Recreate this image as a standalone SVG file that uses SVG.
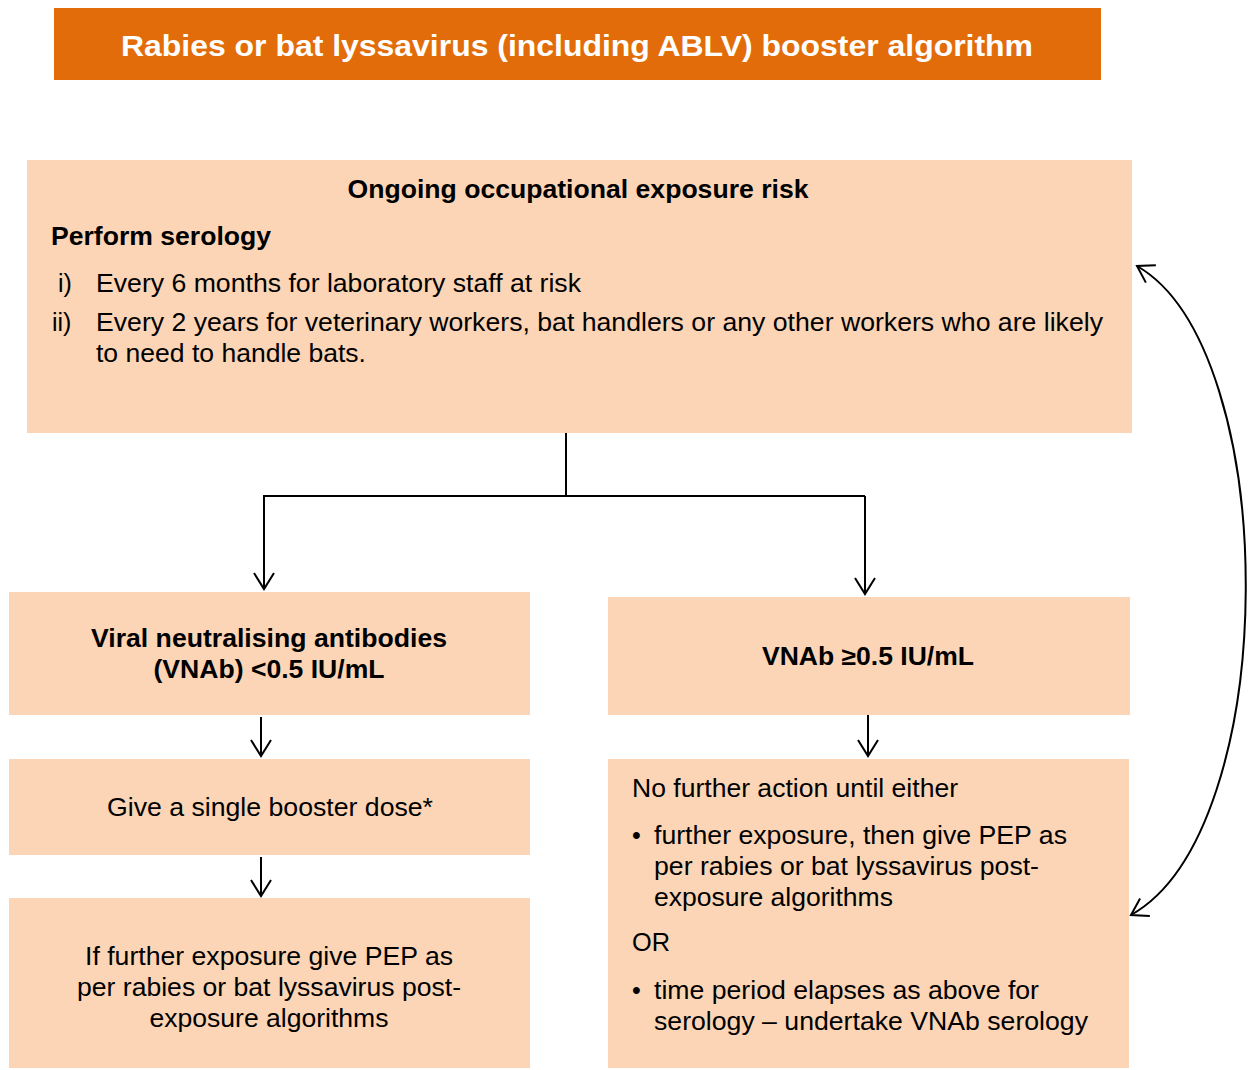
<svg xmlns="http://www.w3.org/2000/svg" width="1248" height="1070" viewBox="0 0 1248 1070">
<defs>
<style>
.box{fill:#FBD5B5}
.t{font-family:"Liberation Sans",Arial,sans-serif;font-size:25px;fill:#000}
.b{font-weight:bold}
.c{text-anchor:middle}
.ln{stroke:#000;stroke-width:2;fill:none}
</style>
<marker id="ah" viewBox="0 0 20 24" refX="18" refY="12" markerWidth="20" markerHeight="24" markerUnits="userSpaceOnUse" orient="auto-start-reverse">
<path d="M2,2 L18,12 L2,22" fill="none" stroke="#000" stroke-width="2"/>
</marker>
</defs>
<rect width="1248" height="1070" fill="#fff"/>
<g id="title">
<rect x="54" y="8" width="1047" height="72" fill="#E36C0A"/>
<text x="577" y="56" class="t b c" style="font-size:30px;fill:#fff" textLength="912" lengthAdjust="spacingAndGlyphs">Rabies or bat lyssavirus (including ABLV) booster algorithm</text>
</g>
<g id="ongoing">
<rect class="box" x="27" y="160" width="1105" height="273"/>
<text x="578" y="198" class="t b c" textLength="461" lengthAdjust="spacingAndGlyphs">Ongoing occupational exposure risk</text>
<text x="51" y="245" class="t b" textLength="220" lengthAdjust="spacingAndGlyphs">Perform serology</text>
<text x="58" y="292" class="t">i)</text>
<text x="96" y="292" class="t" textLength="485" lengthAdjust="spacingAndGlyphs">Every 6 months for laboratory staff at risk</text>
<text x="52" y="331" class="t">ii)</text>
<text x="96" y="331" class="t" textLength="1007" lengthAdjust="spacingAndGlyphs">Every 2 years for veterinary workers, bat handlers or any other workers who are likely</text>
<text x="96" y="362" class="t" textLength="270" lengthAdjust="spacingAndGlyphs">to need to handle bats.</text>
</g>
<g id="low">
<rect class="box" x="9" y="592" width="521" height="123"/>
<text x="269" y="647" class="t b c" textLength="356" lengthAdjust="spacingAndGlyphs">Viral neutralising antibodies</text>
<text x="269" y="678" class="t b c" textLength="231" lengthAdjust="spacingAndGlyphs">(VNAb) &lt;0.5 IU/mL</text>
</g>
<g id="high">
<rect class="box" x="608" y="597" width="522" height="118"/>
<text x="868" y="665" class="t b c" textLength="212" lengthAdjust="spacingAndGlyphs">VNAb ≥0.5 IU/mL</text>
</g>
<g id="booster">
<rect class="box" x="9" y="759" width="521" height="96"/>
<text x="270" y="816" class="t c" textLength="326" lengthAdjust="spacingAndGlyphs">Give a single booster dose*</text>
</g>
<g id="pep">
<rect class="box" x="9" y="898" width="521" height="170"/>
<text x="269" y="965" class="t c" textLength="368" lengthAdjust="spacingAndGlyphs">If further exposure give PEP as</text>
<text x="269" y="996" class="t c" textLength="384" lengthAdjust="spacingAndGlyphs">per rabies or bat lyssavirus post-</text>
<text x="269" y="1027" class="t c" textLength="239" lengthAdjust="spacingAndGlyphs">exposure algorithms</text>
</g>
<g id="nofurther">
<rect class="box" x="608" y="759" width="521" height="309"/>
<text x="632" y="797" class="t" textLength="326" lengthAdjust="spacingAndGlyphs">No further action until either</text>
<text x="632" y="844" class="t">•</text>
<text x="654" y="844" class="t" textLength="413" lengthAdjust="spacingAndGlyphs">further exposure, then give PEP as</text>
<text x="654" y="875" class="t" textLength="385" lengthAdjust="spacingAndGlyphs">per rabies or bat lyssavirus post-</text>
<text x="654" y="906" class="t" textLength="239" lengthAdjust="spacingAndGlyphs">exposure algorithms</text>
<text x="632" y="951" class="t" textLength="38" lengthAdjust="spacingAndGlyphs">OR</text>
<text x="632" y="999" class="t">•</text>
<text x="654" y="999" class="t" textLength="385" lengthAdjust="spacingAndGlyphs">time period elapses as above for</text>
<text x="654" y="1030" class="t" textLength="434" lengthAdjust="spacingAndGlyphs">serology – undertake VNAb serology</text>
</g>
<g id="connectors">
<path class="ln" d="M566,433 V496 M263,496 H865"/>
<path class="ln" d="M264,496 V589" marker-end="url(#ah)"/>
<path class="ln" d="M865,496 V594" marker-end="url(#ah)"/>
<path class="ln" d="M261,717 V756" marker-end="url(#ah)"/>
<path class="ln" d="M261,857 V896" marker-end="url(#ah)"/>
<path class="ln" d="M868,715 V756" marker-end="url(#ah)"/>
<path class="ln" d="M1137,266 C1283,350 1283,830 1131,915" marker-start="url(#ah)" marker-end="url(#ah)"/>
</g>
</svg>
